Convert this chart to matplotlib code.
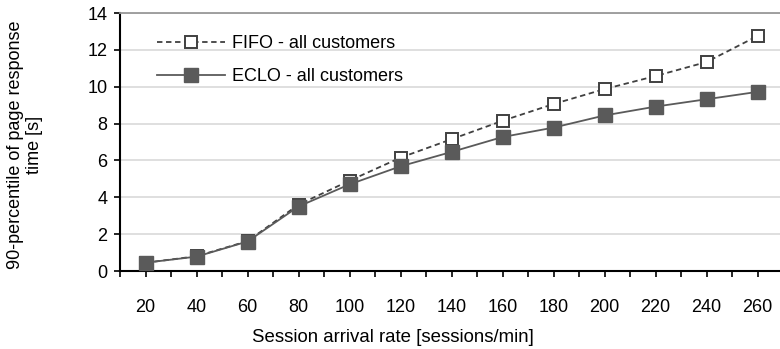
import matplotlib
matplotlib.use("Agg")
import matplotlib.pyplot as plt
from matplotlib.ticker import FixedLocator, NullFormatter

plt.rcParams['font.family'] = ['Liberation Sans', 'DejaVu Sans']

categories = ["20", "40", "60", "80", "100", "120", "140", "160", "180", "200", "220", "240", "260"]
fifo = [0.45, 0.8, 1.62, 3.6, 4.9, 6.15, 7.15, 8.15, 9.06, 9.87, 10.58, 11.34, 12.75]
eclo = [0.45, 0.78, 1.6, 3.5, 4.7, 5.68, 6.46, 7.27, 7.78, 8.44, 8.92, 9.32, 9.72]
y_ticks = [0, 2, 4, 6, 8, 10, 12, 14]

FS = 13

fig = plt.figure(figsize=(7.8, 3.49), dpi=100)
ax = fig.add_axes([120/780, 1 - 271/349, 663/780, 258/349])

x = list(range(len(categories)))
ax.plot(x, fifo, linestyle=(0, (3, 2)), color='#404040', linewidth=1.3,
        marker='s', markersize=9, markerfacecolor='white', markeredgecolor='#404040',
        markeredgewidth=1.4, label='FIFO - all customers', zorder=3)
ax.plot(x, eclo, linestyle='-', color='#5a5a5a', linewidth=1.3,
        marker='s', markersize=9.5, markerfacecolor='#5a5a5a', markeredgecolor='#5a5a5a',
        label='ECLO - all customers', zorder=4)

ax.set_xlim(-0.5, len(categories) - 0.5)
ax.set_ylim(0, 14)
ax.set_xticks(x)
ax.set_xticklabels(categories)
ax.xaxis.set_minor_locator(FixedLocator([i - 0.5 for i in range(len(categories) + 1)]))
ax.xaxis.set_minor_formatter(NullFormatter())
ax.tick_params(axis='x', which='both', direction='out', length=4, width=1.2, color='black',
               labelsize=FS, pad=16)
ax.set_yticks(y_ticks)
ax.tick_params(axis='y', direction='out', length=4, width=1.2, color='black', labelsize=FS, pad=5)

ax.grid(axis='y', color='#d9d9d9', linewidth=1.2)
ax.set_axisbelow(True)
for s in ['left', 'bottom']:
    ax.spines[s].set_color('black')
    ax.spines[s].set_linewidth(1.5)
ax.spines['right'].set_visible(False)
ax.spines['top'].set_color('#999999')
ax.spines['top'].set_linewidth(1.3)

ax.set_xlabel('Session arrival rate [sessions/min]', fontsize=13.4)
ax.xaxis.set_label_coords((393 - 120) / 663, -(337 - 271) / 258)
ax.xaxis.label.set_va('center')
ax.set_ylabel('90-percentile of page response\ntime [s]', fontsize=FS, linespacing=1.1)
ax.yaxis.set_label_coords(-(120 - 25) / 663, 0.49)
ax.yaxis.label.set_va('center')

leg = ax.legend(loc='upper left', bbox_to_anchor=(0.031, 0.978), frameon=False,
                fontsize=FS, handlelength=3.75, labelspacing=0.9, handletextpad=0.4)

fig.savefig('out.png', dpi=100)
